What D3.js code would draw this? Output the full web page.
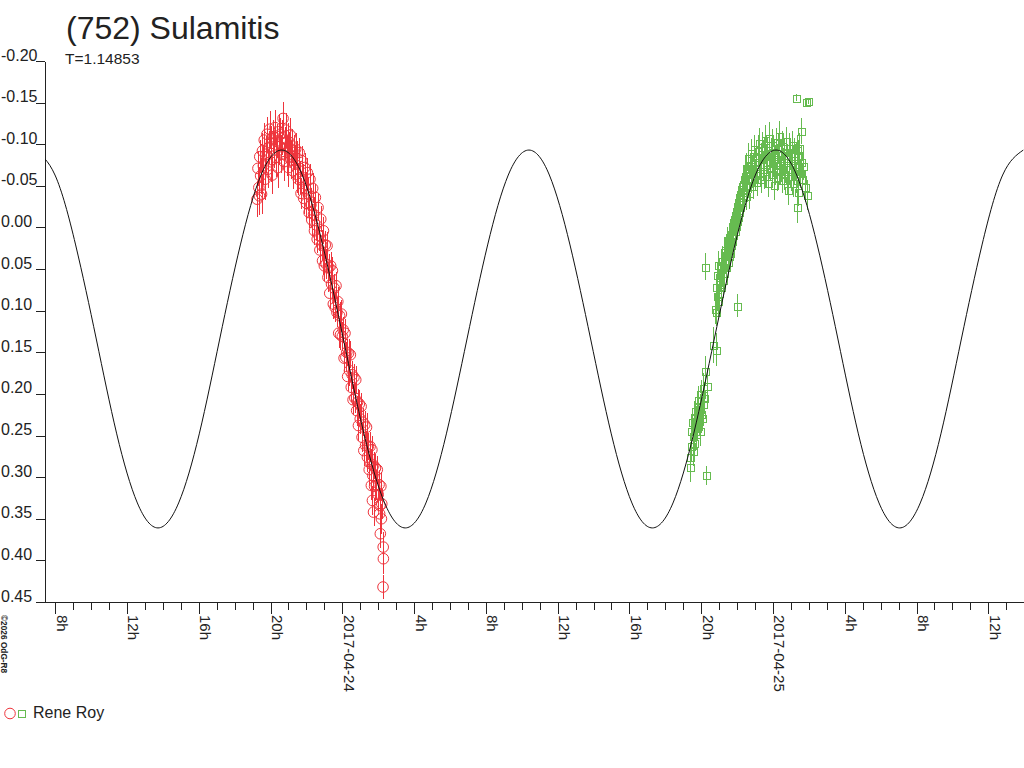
<!DOCTYPE html>
<html>
<head>
<meta charset="utf-8">
<script src="https://cdn.jsdelivr.net/npm/d3@7"></script>
<style>
  body { margin: 0; background: #fff; }
  text { font-family: "Liberation Sans", Arial, sans-serif; fill: #222; }
  line, rect, .domain { shape-rendering: crispEdges; }
</style>
</head>
<body>
<div id="chart"></div>
<script>

// hours are counted from 2017-04-24 00:00 UT
const baseTime = Date.UTC(2017, 3, 24);
const period = "T=1.14853";
const observer = "Rene Roy";
const yTicks = [-0.20, -0.15, -0.10, -0.05, 0.00, 0.05, 0.10, 0.15, 0.20, 0.25, 0.30, 0.35, 0.40, 0.45];

// model lightcurve: [hour, mag]
const modelCurve = [
    [-17.16, -0.093], [-16.01, -0.063], [-14.86, 0.021], [-13.71, 0.134], [-12.57, 0.248], [-11.42, 0.331],
    [-10.27, 0.361], [-9.12, 0.331], [-7.97, 0.248], [-6.83, 0.134], [-5.68, 0.021], [-4.53, -0.063],
    [-3.38, -0.093], [-2.23, -0.063], [-1.09, 0.021], [0.06, 0.134], [1.21, 0.248], [2.36, 0.331],
    [3.51, 0.361], [4.66, 0.331], [5.80, 0.248], [6.95, 0.134], [8.10, 0.021], [9.25, -0.063],
    [10.40, -0.093], [11.54, -0.063], [12.69, 0.021], [13.84, 0.134], [14.99, 0.248], [16.14, 0.331],
    [17.28, 0.361], [18.43, 0.331], [19.58, 0.248], [20.73, 0.134], [21.88, 0.021], [23.02, -0.063],
    [24.17, -0.093], [25.32, -0.063], [26.47, 0.021], [27.62, 0.134], [28.76, 0.248], [29.91, 0.331],
    [31.06, 0.361], [32.21, 0.331], [33.36, 0.248], [34.50, 0.134], [35.65, 0.021], [36.80, -0.063],
    [37.95, -0.093]
];

// first night (red circles): [hour, mag, error]
const redObs = [
    [-4.75,-0.034,0.022],[-4.70,-0.071,0.021],[-4.65,-0.048,0.025],[-4.62,-0.038,0.023],[-4.60,-0.085,0.020],
    [-4.55,-0.062,0.022],[-4.50,-0.040,0.024],[-4.45,-0.092,0.021],[-4.40,-0.074,0.023],[-4.35,-0.105,0.020],
    [-4.30,-0.058,0.025],[-4.25,-0.088,0.022],[-4.20,-0.112,0.021],[-4.15,-0.070,0.023],[-4.10,-0.096,0.020],
    [-4.05,-0.118,0.022],[-4.00,-0.079,0.024],[-3.95,-0.101,0.021],[-3.90,-0.063,0.023],[-3.85,-0.109,0.020],
    [-3.80,-0.093,0.022],[-3.75,-0.120,0.021],[-3.70,-0.084,0.023],[-3.65,-0.104,0.020],[-3.60,-0.072,0.024],
    [-3.55,-0.115,0.021],[-3.50,-0.097,0.022],[-3.45,-0.112,0.020],[-3.40,-0.088,0.023],[-3.35,-0.108,0.021],
    [-3.30,-0.131,0.020],[-3.25,-0.079,0.023],[-3.20,-0.101,0.020],[-3.15,-0.117,0.021],[-3.10,-0.086,0.024],
    [-3.05,-0.104,0.022],[-3.00,-0.072,0.023],[-2.95,-0.095,0.020],[-2.90,-0.111,0.021],[-2.85,-0.081,0.023],
    [-2.80,-0.098,0.020],[-2.75,-0.068,0.022],[-2.70,-0.090,0.021],[-2.65,-0.076,0.023],[-2.60,-0.094,0.020],
    [-2.55,-0.064,0.022],[-2.50,-0.083,0.021],[-2.45,-0.058,0.019],[-2.40,-0.090,0.018],[-2.35,-0.060,0.020],
    [-2.30,-0.041,0.019],[-2.25,-0.080,0.018],[-2.20,-0.056,0.020],[-2.15,-0.035,0.019],[-2.10,-0.072,0.018],
    [-2.05,-0.047,0.020],[-2.00,-0.029,0.019],[-1.95,-0.066,0.018],[-1.90,-0.040,0.020],[-1.85,-0.018,0.019],
    [-1.80,-0.058,0.018],[-1.75,-0.027,0.020],[-1.70,-0.009,0.019],[-1.65,-0.047,0.018],[-1.60,-0.016,0.020],
    [-1.55,0.004,0.017],[-1.50,-0.036,0.016],[-1.45,-0.003,0.018],[-1.40,0.014,0.017],[-1.35,-0.024,0.016],
    [-1.30,0.010,0.018],[-1.25,0.027,0.017],[-1.20,-0.010,0.016],[-1.15,0.021,0.018],[-1.10,0.040,0.017],
    [-1.05,0.004,0.016],[-1.00,0.046,0.018],[-0.95,0.021,0.017],[-0.90,0.044,0.018],[-0.85,0.022,0.017],
    [-0.80,0.060,0.018],[-0.75,0.048,0.016],[-0.70,0.079,0.018],[-0.65,0.046,0.017],[-0.60,0.068,0.018],
    [-0.55,0.052,0.016],[-0.50,0.092,0.018],[-0.45,0.073,0.017],[-0.40,0.096,0.018],[-0.35,0.070,0.016],
    [-0.30,0.102,0.018],[-0.25,0.089,0.017],[-0.20,0.127,0.018],[-0.15,0.106,0.016],[-0.10,0.129,0.018],
    [-0.05,0.104,0.017],[0.00,0.131,0.018],[0.05,0.123,0.016],[0.10,0.157,0.018],[0.15,0.127,0.017],
    [0.20,0.156,0.018],[0.25,0.150,0.016],[0.30,0.179,0.018],[0.35,0.151,0.017],[0.40,0.172,0.018],
    [0.45,0.153,0.016],[0.50,0.192,0.018],[0.55,0.177,0.017],[0.60,0.207,0.018],[0.65,0.180,0.016],
    [0.70,0.205,0.018],[0.75,0.183,0.017],[0.80,0.220,0.018],[0.85,0.210,0.016],[0.90,0.238,0.018],
    [0.95,0.212,0.017],[1.00,0.230,0.018],[1.05,0.215,0.016],[1.10,0.252,0.018],[1.15,0.234,0.017],
    [1.20,0.268,0.018],[1.25,0.237,0.016],[1.30,0.262,0.018],[1.35,0.240,0.017],[1.40,0.276,0.018],
    [1.45,0.263,0.016],[1.50,0.291,0.018],[1.55,0.263,0.017],[1.60,0.284,0.018],[1.62,0.310,0.017],
    [1.65,0.267,0.016],[1.68,0.328,0.017],[1.70,0.298,0.018],[1.74,0.342,0.017],[1.75,0.286,0.016],
    [1.80,0.311,0.018],[1.85,0.289,0.017],[1.90,0.310,0.018],[1.95,0.291,0.017],[2.00,0.321,0.018],
    [2.05,0.309,0.017],[2.08,0.344,0.018],[2.10,0.334,0.018],[2.12,0.368,0.017],[2.15,0.311,0.017],
    [2.18,0.350,0.018],[2.20,0.332,0.018],[2.28,0.384,0.018],[2.29,0.398,0.018],[2.27,0.432,0.014]
];

// second night (green squares): [hour, mag, error]
const greenObs = [
    [19.38,0.288,0.018],[19.40,0.276,0.018],[19.43,0.245,0.016],[19.46,0.262,0.019],[19.49,0.234,0.017],
    [19.52,0.268,0.018],[19.55,0.251,0.016],[19.58,0.228,0.019],[19.61,0.259,0.017],[19.64,0.240,0.018],
    [19.67,0.221,0.016],[19.70,0.248,0.019],[19.73,0.232,0.017],[19.76,0.214,0.018],[19.79,0.241,0.016],
    [19.82,0.225,0.019],[19.85,0.207,0.017],[19.88,0.233,0.018],[19.91,0.216,0.016],[19.94,0.244,0.019],
    [19.97,0.200,0.017],[20.00,0.224,0.018],[20.04,0.229,0.016],[20.08,0.193,0.018],[20.12,0.212,0.017],
    [20.16,0.205,0.019],[20.20,0.047,0.016],[20.22,0.173,0.018],[20.26,0.298,0.012],[20.30,0.190,0.020],
    [20.68,0.141,0.022],[20.85,0.147,0.020],
    [20.78,0.098,0.018],[20.81,0.072,0.016],[20.84,0.101,0.017],[20.87,0.082,0.018],[20.90,0.057,0.016],
    [20.93,0.088,0.019],[20.96,0.045,0.017],[20.99,0.068,0.018],[21.02,0.079,0.016],[21.05,0.060,0.018],
    [21.08,0.049,0.017],[21.11,0.072,0.019],[21.14,0.055,0.016],[21.17,0.040,0.018],[21.20,0.063,0.017],
    [21.23,0.047,0.016],[21.26,0.030,0.018],[21.29,0.055,0.019],[21.32,0.039,0.017],[21.35,0.027,0.016],
    [21.38,0.048,0.018],[21.41,0.033,0.017],[21.44,0.019,0.019],[21.47,0.041,0.016],[21.50,0.025,0.018],
    [21.53,0.012,0.017],[21.56,0.034,0.016],[21.59,0.018,0.018],[21.62,0.031,0.019],[21.65,0.008,0.017],
    [21.68,0.021,0.016],[21.71,0.001,0.018],[21.74,0.016,0.017],[21.77,-0.006,0.016],[21.80,0.009,0.018],
    [21.83,-0.010,0.019],[21.86,0.004,0.017],[21.89,-0.015,0.016],[21.92,-0.002,0.018],[21.95,-0.020,0.017],
    [21.97,0.094,0.014],[21.98,-0.008,0.016],[22.01,-0.024,0.018],[22.04,-0.013,0.017],[22.07,-0.031,0.019],
    [22.10,-0.019,0.016],[22.13,-0.036,0.018],[22.16,-0.025,0.017],[22.19,-0.040,0.016],[22.25,-0.031,0.018],
    [22.28,-0.046,0.017],[22.31,-0.037,0.016],[22.34,-0.052,0.018],[22.37,-0.043,0.019],[22.40,-0.058,0.017],
    [22.44,-0.062,0.018],[22.48,-0.038,0.017],[22.52,-0.071,0.019],[22.56,-0.049,0.016],[22.60,-0.083,0.018],
    [22.64,-0.058,0.017],[22.68,-0.041,0.019],[22.72,-0.074,0.016],[22.76,-0.060,0.018],[22.80,-0.089,0.017],
    [22.84,-0.067,0.019],[22.88,-0.050,0.016],[22.92,-0.079,0.018],[22.96,-0.094,0.017],[23.00,-0.063,0.019],
    [23.04,-0.085,0.016],[23.08,-0.071,0.018],[23.12,-0.055,0.017],[23.16,-0.092,0.019],[23.20,-0.076,0.016],
    [23.24,-0.101,0.018],[23.28,-0.066,0.017],[23.32,-0.083,0.019],[23.36,-0.058,0.016],[23.40,-0.097,0.018],
    [23.44,-0.074,0.017],[23.48,-0.088,0.019],[23.52,-0.062,0.016],[23.56,-0.105,0.018],[23.60,-0.079,0.017],
    [23.64,-0.068,0.019],[23.68,-0.093,0.016],[23.72,-0.054,0.018],[23.76,-0.086,0.017],[23.80,-0.108,0.019],
    [23.84,-0.072,0.016],[23.88,-0.090,0.018],[23.92,-0.064,0.017],[23.96,-0.099,0.019],[24.00,-0.077,0.016],
    [24.04,-0.051,0.018],[24.08,-0.088,0.017],[24.12,-0.070,0.019],[24.16,-0.103,0.016],[24.20,-0.082,0.018],
    [24.24,-0.061,0.017],[24.28,-0.095,0.019],[24.32,-0.075,0.016],[24.36,-0.110,0.018],[24.40,-0.068,0.017],
    [24.44,-0.087,0.019],[24.48,-0.057,0.016],[24.52,-0.098,0.018],[24.56,-0.079,0.017],[24.60,-0.064,0.019],
    [24.64,-0.091,0.016],[24.68,-0.073,0.018],[24.72,-0.104,0.017],[24.76,-0.059,0.019],[24.80,-0.084,0.016],
    [24.84,-0.045,0.018],[24.88,-0.096,0.017],[24.92,-0.070,0.019],[24.96,-0.086,0.016],[25.00,-0.062,0.018],
    [25.04,-0.099,0.017],[25.08,-0.075,0.019],[25.12,-0.053,0.016],[25.16,-0.090,0.018],[25.20,-0.068,0.017],
    [25.24,-0.081,0.019],[25.26,-0.156,0.004],[25.28,-0.057,0.016],[25.32,-0.093,0.018],[25.35,-0.025,0.020],
    [25.37,-0.043,0.017],[25.40,-0.086,0.019],[25.44,-0.066,0.016],[25.46,-0.095,0.018],[25.50,-0.065,0.017],
    [25.54,-0.079,0.019],[25.59,-0.116,0.016],[25.64,-0.058,0.018],[25.70,-0.074,0.017],[25.76,-0.049,0.019],
    [25.83,-0.151,0.004],[25.87,-0.039,0.018],[25.93,-0.152,0.004]
];

const hourToDate = h => new Date(baseTime + h * 3600e3);

class LightCurve {

    constructor(parentElement) {
        this._parentElement = parentElement;
        this.initVis();
    }

    initVis() {
        let vis = this;

        vis.plot = {left: 45, right: 1024, top: 61, bottom: 602};
        vis.red = "#ee343c";
        vis.green = "#66bb50";

        vis.svg = d3.select("#" + vis._parentElement).append("svg")
            .attr("width", 1024)
            .attr("height", 768);

        vis.x = d3.scaleUtc()
            .domain([hourToDate(-16.567), hourToDate(37.99)])
            .range([vis.plot.left, vis.plot.right]);

        vis.y = d3.scaleLinear()
            .domain([-0.20, 0.45])
            .range([vis.plot.top, vis.plot.bottom]);

        vis.svg.append("defs").append("clipPath")
            .attr("id", "plot-clip")
            .append("rect")
            .attr("x", vis.plot.left)
            .attr("y", 0)
            .attr("width", vis.plot.right - vis.plot.left)
            .attr("height", vis.plot.bottom);

        // titles
        vis.svg.append("text")
            .attr("x", 66).attr("y", 39)
            .attr("font-size", "32px")
            .text("(752) Sulamitis");
        vis.svg.append("text")
            .attr("x", 65).attr("y", 64)
            .attr("font-size", "15.5px")
            .text(period);

        vis.drawAxes();
        vis.drawData();
        vis.drawLegend();
    }

    drawAxes() {
        let vis = this;

        let yAxis = d3.axisLeft(vis.y)
            .tickValues(yTicks)
            .tickSize(9)
            .tickSizeOuter(0)
            .tickFormat(d => d.toFixed(2));

        let yg = vis.svg.append("g")
            .attr("transform", "translate(" + vis.plot.left + ",0)")
            .call(yAxis);
        yg.selectAll("text")
            .attr("x", -44)
            .attr("y", -1)
            .attr("dy", null)
            .attr("text-anchor", "start")
            .attr("font-size", "16px")
            .attr("fill", "#222");

        // minor hourly ticks
        let xMinor = d3.axisBottom(vis.x)
            .ticks(d3.utcHour.every(1))
            .tickSize(8)
            .tickSizeOuter(0)
            .tickFormat("");
        vis.svg.append("g")
            .attr("transform", "translate(0," + vis.plot.bottom + ")")
            .call(xMinor);

        let hourFmt = d3.utcFormat("%-Hh");
        let dayFmt = d3.utcFormat("%Y-%m-%d");
        let xMajor = d3.axisBottom(vis.x)
            .ticks(d3.utcHour.every(4))
            .tickSize(12)
            .tickSizeOuter(0)
            .tickFormat(d => d.getUTCHours() === 0 ? dayFmt(d) : hourFmt(d));

        let xg = vis.svg.append("g")
            .attr("transform", "translate(0," + vis.plot.bottom + ")")
            .call(xMajor);
        xg.selectAll("text")
            .attr("transform", "rotate(90)")
            .attr("x", 13)
            .attr("y", -1)
            .attr("dy", null)
            .attr("text-anchor", "start")
            .attr("font-size", "15px")
            .attr("fill", "#222");

        vis.svg.selectAll(".domain, .tick line")
            .attr("stroke", "#222");

        vis.svg.append("text")
            .attr("transform", "translate(0,615) rotate(90)")
            .attr("x", 0).attr("y", -1)
            .attr("font-size", "8.3px")
            .attr("font-weight", "bold")
            .text("©2026 OdG-R8");
    }

    // one observer: vertical error bars plus an open marker
    drawSeries(parent, obs, color, marker) {
        let vis = this;
        let g = parent.append("g");

        g.selectAll("line.err")
            .data(obs).enter().append("line")
            .attr("class", "err")
            .attr("stroke", color)
            .attr("stroke-width", 1)
            .attr("x1", d => Math.round(vis.x(hourToDate(d[0]))) + 0.5)
            .attr("x2", d => Math.round(vis.x(hourToDate(d[0]))) + 0.5)
            .attr("y1", d => vis.y(d[1] - d[2]))
            .attr("y2", d => vis.y(d[1] + d[2]));

        if (marker === "circle") {
            g.selectAll("circle.pt")
                .data(obs).enter().append("circle")
                .attr("class", "pt")
                .attr("fill", "none")
                .attr("stroke", color)
                .attr("cx", d => vis.x(hourToDate(d[0])))
                .attr("cy", d => vis.y(d[1]))
                .attr("r", 5.3);
        } else {
            g.selectAll("rect.pt")
                .data(obs).enter().append("rect")
                .attr("class", "pt")
                .attr("fill", "none")
                .attr("stroke", color)
                .attr("x", d => Math.round(vis.x(hourToDate(d[0]))) - 3)
                .attr("y", d => Math.round(vis.y(d[1])) - 3)
                .attr("width", 7)
                .attr("height", 7);
        }
    }

    drawData() {
        let vis = this;
        let plotArea = vis.svg.append("g").attr("clip-path", "url(#plot-clip)");

        vis.drawSeries(plotArea, redObs, vis.red, "circle");
        vis.drawSeries(plotArea, greenObs, vis.green, "square");

        // model curve on top
        let line = d3.line()
            .x(d => vis.x(hourToDate(d[0])))
            .y(d => vis.y(d[1]))
            .curve(d3.curveNatural);
        plotArea.append("path")
            .datum(modelCurve)
            .attr("fill", "none")
            .attr("stroke", "#111")
            .attr("stroke-width", 1)
            .attr("d", line);
    }

    drawLegend() {
        let vis = this;
        vis.svg.append("circle")
            .attr("cx", 10).attr("cy", 713.5).attr("r", 5.3)
            .attr("fill", "none").attr("stroke", vis.red);
        vis.svg.append("rect")
            .attr("x", 18.5).attr("y", 710.5).attr("width", 6.5).attr("height", 6.5)
            .attr("fill", "none").attr("stroke", vis.green);
        vis.svg.append("text")
            .attr("x", 33).attr("y", 718)
            .attr("font-size", "16px")
            .text(observer);
    }
}

new LightCurve("chart");
</script>
</body>
</html>
